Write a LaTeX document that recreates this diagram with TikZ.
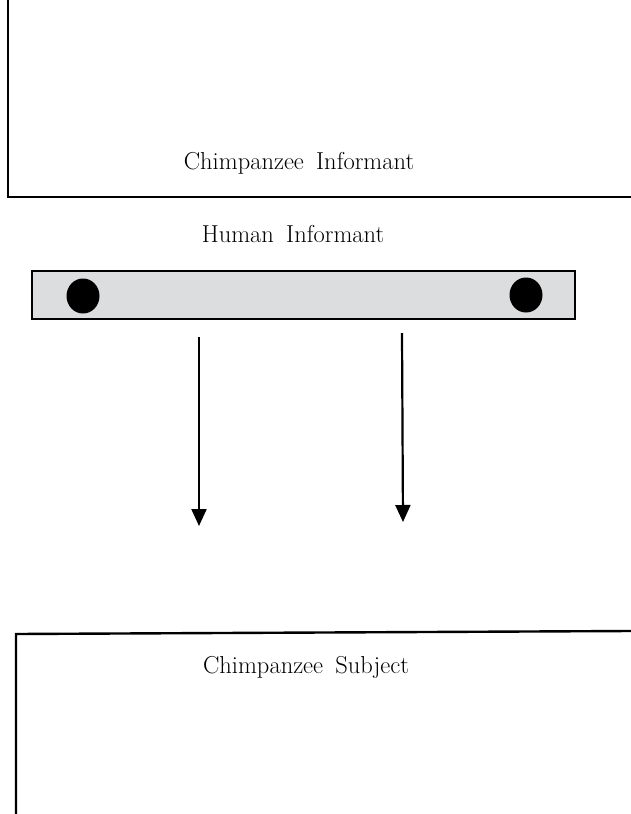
\documentclass[tikz,border=0pt]{standalone}
\usetikzlibrary{arrows.meta,shapes.geometric}
\definecolor{barfill}{RGB}{220,221,223}
\tikzset{
  frame/.style={line width=2.4pt, line cap=rect},
  label/.style={font=\fontsize{24.5}{28}\selectfont, inner sep=0pt},
  flow/.style={line width=2.2pt, -{Triangle[width=15pt,length=17pt]}},
  bead/.style={fill=black, ellipse, minimum width=33pt, minimum height=35pt, inner sep=0pt}
}
\begin{document}
\begin{tikzpicture}[x=1pt,y=-1pt]
  \useasboundingbox[fill=white] (0,0) rectangle (630,814);

  % upper enclosure (informant side)
  \draw[frame] (8,0) -- (8,197) -- (630,197);
  \node[label] (informant) at (299,163) {Chimpanzee\hspace{0.2em} Informant};

  % human informant and the food tray
  \node[label] (human) at (293,234) {Human\hspace{0.2em} Informant};
  \node[draw, line width=2.4pt, fill=barfill, minimum width=543pt, minimum height=48pt, inner sep=0pt]
    (tray) at (303.5,295) {};
  \node[bead] (beadL) at (83,296) {};
  \node[bead] (beadR) at (526,295) {};

  % pointing directions
  \coordinate (a1s) at (199,337);
  \coordinate (a1e) at (199,526);
  \coordinate (a2s) at (402,333);
  \coordinate (a2e) at (403,522);
  \draw[flow] (a1s) -- (a1e);
  \draw[flow] (a2s) -- (a2e);

  % lower enclosure (subject side)
  \draw[frame] (16,814) -- (16,634) -- (630,631);
  \node[label] (subject) at (306,667) {Chimpanzee\hspace{0.2em} Subject};
\end{tikzpicture}
\end{document}
